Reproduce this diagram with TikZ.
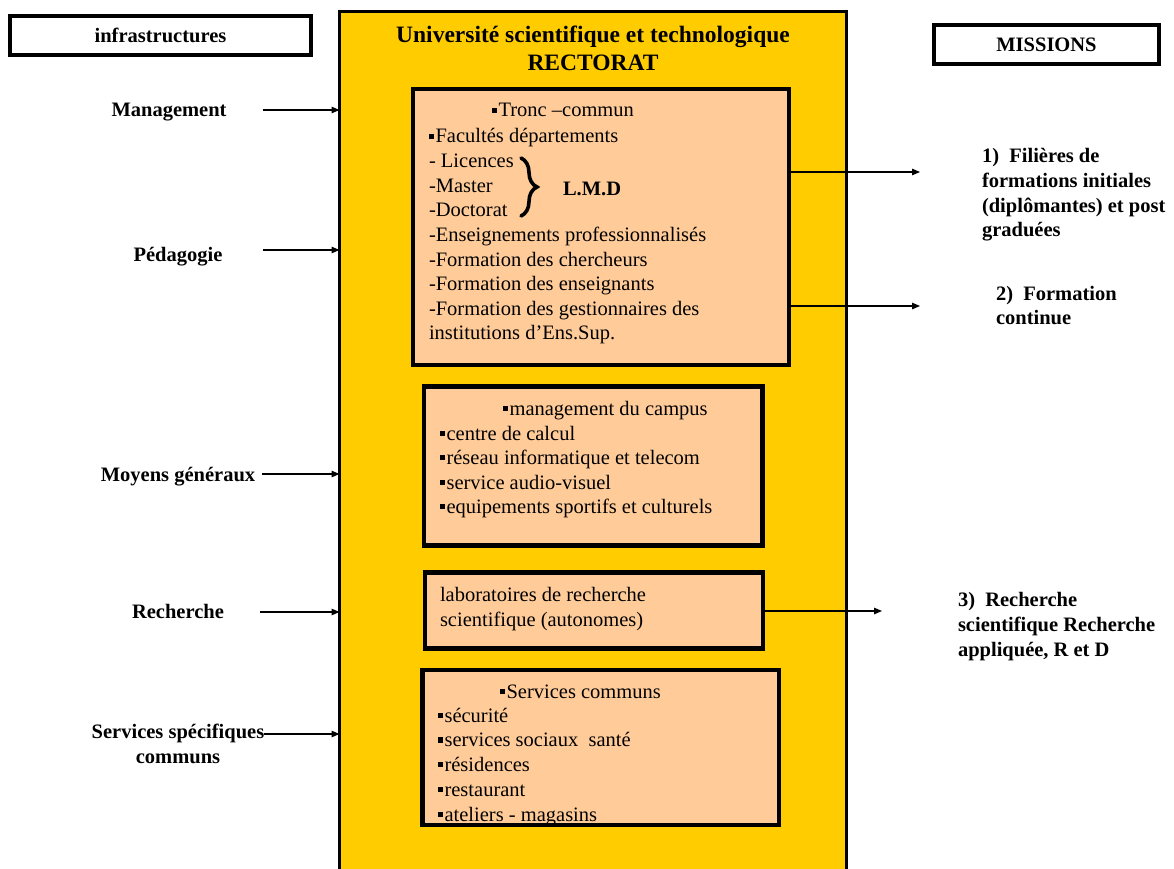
\documentclass[tikz,border=0pt]{standalone}
\usepackage{fontspec}
\setmainfont{Liberation Serif}
\usetikzlibrary{arrows.meta,decorations.pathreplacing}
\definecolor{gold}{HTML}{FFCC00}
\definecolor{peach}{HTML}{FFCC99}
\newcommand\sqb{\rule[0.2em]{0.26em}{0.26em}\hspace{0.06em}}
\begin{document}
\begin{tikzpicture}[x=1pt,y=-1pt,
  every node/.style={inner sep=0pt,outer sep=0pt},
  body/.style={font=\fontsize{20.5}{24.6}\selectfont,anchor=base west},
  bodyb/.style={font=\fontsize{20.5}{24.6}\selectfont\bfseries,anchor=base west},
  lab/.style={font=\fontsize{20.5}{24.6}\selectfont\bfseries,anchor=base},
  ttl/.style={font=\fontsize{23.5}{28}\selectfont\bfseries,anchor=base},
  headbox/.style={draw=black,line width=3.5pt,fill=white,font=\fontsize{20.5}{24.6}\selectfont\bfseries},
  panel/.style={draw=black,line width=4.5pt,fill=peach},
  arr/.style={line width=1.3pt,-{Triangle[length=8pt,width=6.5pt]}}]
\useasboundingbox (0,0) rectangle (1174,869);
\clip (0,0) rectangle (1174,869);
\fill[white] (0,0) rectangle (1174,869);

% outer university box
\node[draw=black,line width=3pt,fill=gold,minimum width=507pt,minimum height=868pt] (outer) at (593,445.5) {};
\node[ttl] (t1) at (593,43) {Université scientifique et technologique};
\node[ttl] (t2) at (593,71) {RECTORAT};

% header boxes
\node[headbox,minimum width=301pt,minimum height=39pt] (infra) at (160.5,35.5) {infrastructures};
\node[headbox,minimum width=225pt,minimum height=39pt] (miss) at (1046.5,44.5) {MISSIONS};

% panel 1
\node[panel,minimum width=376pt,minimum height=276pt] (p1) at (601,227) {};
\node[body] (p1h) at (492,117) {\sqb Tronc –commun};
\foreach \t [count=\i] in {\sqb Facultés départements, - Licences, -Master, -Doctorat, -Enseignements professionnalisés, -Formation des chercheurs, -Formation des enseignants, -Formation des gestionnaires des, institutions d’Ens.Sup.}
  \node[body] (p1l\i) at (429,{143+24.6*(\i-1)}) {\t};
\draw[decorate,decoration={brace,amplitude=16pt,aspect=0.5},line width=3.6pt,line cap=round] (521,158) -- (521,216);
\node[bodyb] (lmd) at (563,195) {L.M.D};

% panel 2
\node[panel,minimum width=338.5pt,minimum height=159pt] (p2) at (593.25,466) {};
\node[body] (p2h) at (503,415) {\sqb management du campus};
\foreach \t [count=\i] in {\sqb centre de calcul, \sqb réseau informatique et telecom, \sqb service audio-visuel, \sqb equipements sportifs et culturels}
  \node[body] (p2l\i) at (440,{440+24.5*(\i-1)}) {\t};

% panel 3
\node[panel,minimum width=338pt,minimum height=76pt] (p3) at (594,610.5) {};
\node[body] (p3l1) at (440,601) {laboratoires de recherche};
\node[body] (p3l2) at (440,626) {scientifique (autonomes)};

% panel 4
\fill[peach] (422.5,670) rectangle (779,825);
\node[body] (p4h) at (500,698) {\sqb Services communs};
\foreach \t [count=\i] in {\sqb sécurité, \sqb services sociaux\hspace{0.5em}santé, \sqb résidences, \sqb restaurant, \sqb ateliers - magasins}
  \node[body] (p4l\i) at (438,{722+24.75*(\i-1)}) {\t};
\node[panel,fill=none,minimum width=356.5pt,minimum height=155pt] (p4) at (600.75,747.5) {};

% left labels and arrows
\node[lab] (lm) at (169,117) {Management};
\node[lab] (lp) at (178,261) {Pédagogie};
\node[lab] (lg) at (178,481) {Moyens généraux};
\node[lab] (lr) at (178,618) {Recherche};
\node[lab] (ls1) at (178,738) {Services spécifiques};
\node[lab] (ls2) at (178,763) {communs};
\coordinate (s1) at (263,110);
\coordinate (s2) at (263,250);
\coordinate (s3) at (262,474);
\coordinate (s4) at (260,612);
\coordinate (s5) at (264,734);
\foreach \s in {s1,s2,s3,s4,s5}
  \draw[arr] (\s) -- (\s -| outer.west);

% right missions
\node[bodyb] (m1a) at (982,163) {1)\hspace{0.5em}Filières de};
\node[bodyb] (m1b) at (982,187.5) {formations initiales};
\node[bodyb] (m1c) at (982,212) {(diplômantes) et post};
\node[bodyb] (m1d) at (982,236.5) {graduées};
\node[bodyb] (m2a) at (996,300) {2)\hspace{0.5em}Formation};
\node[bodyb] (m2b) at (996,324) {continue};
\node[bodyb] (m3a) at (958,606) {3)\hspace{0.5em}Recherche};
\node[bodyb] (m3b) at (958,631) {scientifique Recherche};
\node[bodyb] (m3c) at (958,656) {appliquée, R et D};
\coordinate (r1) at (920,172);
\coordinate (r2) at (920,306);
\coordinate (r3) at (882,611);
\draw[arr] (r1 -| p1.east) -- (r1);
\draw[arr] (r2 -| p1.east) -- (r2);
\draw[arr] (r3 -| p3.east) -- (r3);
\end{tikzpicture}
\end{document}
